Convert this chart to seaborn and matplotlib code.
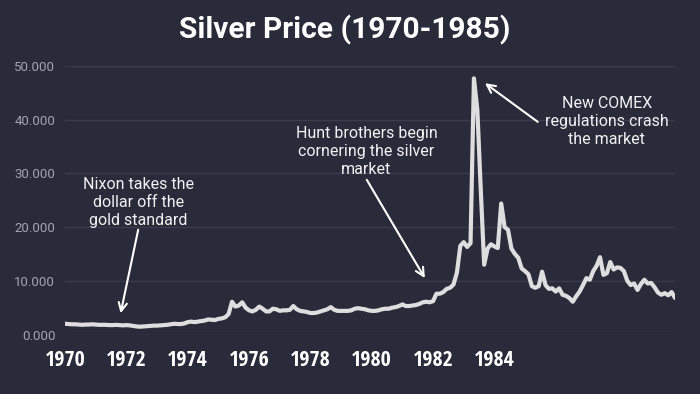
import numpy as np
import pandas as pd
import matplotlib
matplotlib.use("Agg")
import matplotlib.pyplot as plt
from matplotlib import font_manager
from matplotlib.textpath import TextPath
from matplotlib.transforms import ScaledTranslation
import seaborn as sns

# ---- data (monthly silver price, Jan 1970 .. Dec 1984) ----
start_year = 1970
prices = [
    # 1970
    2.00, 1.95, 1.90, 1.90, 1.85, 1.80, 1.85, 1.85, 1.90, 1.85, 1.80, 1.80,
    # 1971
    1.80, 1.75, 1.75, 1.80, 1.75, 1.70, 1.75, 1.70, 1.60, 1.50, 1.45, 1.50,
    # 1972
    1.55, 1.60, 1.65, 1.65, 1.70, 1.75, 1.80, 1.90, 2.00, 1.95, 1.95, 2.05,
    # 1973
    2.30, 2.40, 2.30, 2.40, 2.50, 2.60, 2.80, 2.75, 2.70, 2.90, 3.00, 3.20,
    # 1974
    3.80, 6.10, 5.20, 5.40, 6.00, 5.00, 4.50, 4.30, 4.60, 5.20, 4.80, 4.30,
    # 1975
    4.30, 4.80, 4.70, 4.40, 4.50, 4.50, 4.60, 5.30, 4.70, 4.40, 4.30, 4.20,
    # 1976
    4.00, 4.00, 4.10, 4.30, 4.50, 4.70, 5.10, 4.60, 4.40, 4.40, 4.40, 4.40,
    # 1977
    4.50, 4.80, 4.90, 4.80, 4.70, 4.50, 4.40, 4.40, 4.50, 4.70, 4.80, 4.80,
    # 1978
    5.00, 5.10, 5.30, 5.60, 5.30, 5.30, 5.40, 5.50, 5.70, 6.00, 6.10, 6.00,
    # 1979
    6.20, 7.60, 7.60, 7.90, 8.50, 8.70, 9.30, 11.50, 16.50, 17.20, 16.30, 17.00,
    # 1980
    47.70, 41.80, 27.00, 13.00, 16.00, 16.80, 16.40, 16.10, 24.40, 20.00, 19.50, 16.00,
    # 1981
    15.00, 14.30, 12.30, 11.80, 11.20, 9.00, 8.70, 9.00, 11.70, 9.20, 8.50, 8.60,
    # 1982
    8.00, 8.60, 7.40, 7.20, 6.80, 6.10, 7.10, 8.00, 9.20, 10.50, 10.20, 11.80,
    # 1983
    12.80, 14.40, 11.10, 11.40, 13.50, 12.10, 12.50, 12.40, 11.80, 10.00, 9.20, 9.50,
    # 1984
    8.30, 9.40, 10.20, 9.50, 9.60, 8.80, 7.80, 7.40, 7.70, 7.30, 7.90, 6.80,
]
tick_labels = ["1970", "1972", "1974", "1976", "1978", "1980", "1982", "1984"]
y_ticks = [0, 10, 20, 30, 40, 50]

title = "Silver Price (1970-1985)"
notes = [
    ("Nixon takes the\ndollar off the\ngold standard", (1971.79, 24.5), (1971.79, 19.5), (1971.36, 3.95)),
    ("Hunt brothers begin\ncornering the silver\nmarket", (1977.37, 34.0), (1977.38, 28.8), (1978.80, 10.5)),
    ("New COMEX\nregulations crash\nthe market", (1983.25, 39.6), (1981.56, 39.6), (1980.27, 46.8)),
]

df = pd.DataFrame({
    "t": start_year + np.arange(len(prices)) / 12.0,
    "price": prices,
})

BG = "#292b3b"
GRID = "#3a3c4d"
LINE = "#dedede"

sns.set_theme(style="dark", rc={
    "figure.facecolor": BG,
    "axes.facecolor": BG,
    "savefig.facecolor": BG,
})
plt.rcParams["font.family"] = ["Roboto", "DejaVu Sans"]


# ---- pick the narrowest bold Latin font available for the year labels ----
def _is_bold(f):
    w = f.weight
    return (isinstance(w, int) and w >= 600) or (isinstance(w, str) and "bold" in w.lower())


latin = ("roboto", "open sans", "liberation sans", "lato", "inter", "dejavu sans", "noto sans")
best = None
for f in font_manager.fontManager.ttflist:
    nm = f.name.lower()
    if "cjk" in nm or "mono" in nm or not any(nm.startswith(k) for k in latin):
        continue
    if not _is_bold(f) or "italic" in str(f.style).lower() or "oblique" in str(f.style).lower():
        continue
    try:
        ext = TextPath((0, 0), "1970", prop=font_manager.FontProperties(fname=f.fname, size=15)).get_extents()
    except Exception:
        continue
    if ext.height <= 0:
        continue
    ratio = ext.width / ext.height
    if best is None or ratio < best[0]:
        best = (ratio, f.fname, ext.width, ext.height)

if best is not None:
    w_px = best[2] * 100 / 72
    h_px = best[3] * 100 / 72
    size = 15 * 39.0 / w_px            # aim for ~39 px wide labels
    if h_px * size / 15 > 17:
        size = 15 * 17.0 / h_px
    xtick_font = font_manager.FontProperties(fname=best[1], size=size)
else:
    xtick_font = font_manager.FontProperties(family="Roboto", weight="bold", size=13)

fig = plt.figure(figsize=(7.0, 3.94), dpi=100)
ax = fig.add_axes([65 / 700, 1 - 334.5 / 394, 610 / 700, (334.5 - 66) / 394])

sns.lineplot(data=df, x="t", y="price", ax=ax, color=LINE, linewidth=3.0,
             solid_capstyle="round", solid_joinstyle="round")

for s in ax.spines.values():
    s.set_visible(False)

ax.set_yticks(y_ticks)
ax.set_yticklabels([f"{v:.3f}" for v in y_ticks], color="#a2a4b0", fontsize=9.5)
ax.yaxis.grid(True, color=GRID, linewidth=1.0)
ax.xaxis.grid(False)
ax.set_axisbelow(True)

# a label every 18 months, drawn slightly left of its tick as in the source
tick_pos = df["t"].iloc[0] + 1.5 * np.arange(len(tick_labels))
ax.set_xticks(tick_pos)
ax.set_xticklabels(tick_labels, color="white", fontproperties=xtick_font)
shift = ScaledTranslation(-9 / 100, 0, fig.dpi_scale_trans)
for lab in ax.get_xticklabels():
    lab.set_transform(lab.get_transform() + shift)
ax.tick_params(axis="x", length=0, pad=11)
ax.tick_params(axis="y", length=0, pad=7)
ax.set_xlabel("")
ax.set_ylabel("")

ax.set_xlim(df["t"].iloc[0], df["t"].iloc[-1])
ax.set_ylim(0, 50)

for text, txy, tail, head in notes:
    ax.text(txy[0], txy[1], text, ha="center", va="center", color="#f2f2f2",
            fontsize=11.5, linespacing=1.25)
    ax.annotate("", xy=head, xytext=tail,
                arrowprops=dict(arrowstyle="->,head_length=0.5,head_width=0.25",
                                color="white", lw=1.5, shrinkA=0, shrinkB=0))

fig.text(345 / 700, 1 - 30 / 394, title, ha="center", va="center", color="white",
         fontsize=21.5, fontweight="bold")

fig.savefig("out.png", dpi=100)
